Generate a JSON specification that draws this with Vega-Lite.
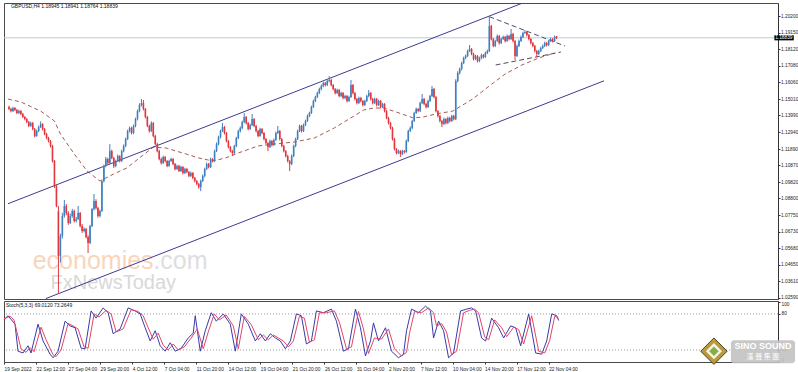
{
"$schema":"https://vega.github.io/schema/vega-lite/v6.json",
"background":"white",
"padding":{"left":1,"top":2,"right":0,"bottom":0},
"spacing":2,
"bounds":"flush",
"config":{"view":{"stroke":"#4a4a4a","strokeWidth":1},"axis":{"labelFont":"Liberation Sans","labelFontSize":4.8,"labelColor":"#222","tickColor":"#333","tickSize":2,"domainColor":"#333","grid":false,"labelOverlap":false,"labelBound":false},"text":{"font":"Liberation Sans"}},
"datasets":{
"candles":[
{"i":0,"o":1.1451,"h":1.146,"l":1.1432,"c":1.1439},{"i":1,"o":1.1439,"h":1.1447,"l":1.1418,"c":1.1426},{"i":2,"o":1.1426,"h":1.1453,"l":1.142,"c":1.1445},{"i":3,"o":1.1445,"h":1.1451,"l":1.1426,"c":1.1433},{"i":4,"o":1.1433,"h":1.144,"l":1.1407,"c":1.1414},{"i":5,"o":1.1414,"h":1.1435,"l":1.1408,"c":1.1426},{"i":6,"o":1.1426,"h":1.1432,"l":1.14,"c":1.1408},{"i":7,"o":1.1408,"h":1.1415,"l":1.1382,"c":1.1389},{"i":8,"o":1.1389,"h":1.1396,"l":1.1368,"c":1.1376},{"i":9,"o":1.1376,"h":1.1383,"l":1.135,"c":1.1358},
{"i":10,"o":1.1358,"h":1.1365,"l":1.1325,"c":1.1333},{"i":11,"o":1.1333,"h":1.136,"l":1.1327,"c":1.1351},{"i":12,"o":1.1351,"h":1.1358,"l":1.1306,"c":1.1314},{"i":13,"o":1.1314,"h":1.132,"l":1.1262,"c":1.127},{"i":14,"o":1.127,"h":1.131,"l":1.1265,"c":1.1301},{"i":15,"o":1.1301,"h":1.1335,"l":1.1295,"c":1.1326},{"i":16,"o":1.1326,"h":1.1362,"l":1.132,"c":1.1345},{"i":17,"o":1.1345,"h":1.135,"l":1.1305,"c":1.1314},{"i":18,"o":1.1314,"h":1.132,"l":1.1275,"c":1.1283},{"i":19,"o":1.1283,"h":1.129,"l":1.125,"c":1.1258},
{"i":20,"o":1.1258,"h":1.1265,"l":1.123,"c":1.1239},{"i":21,"o":1.1239,"h":1.1245,"l":1.1198,"c":1.1208},{"i":22,"o":1.1208,"h":1.1215,"l":1.1105,"c":1.1114},{"i":23,"o":1.1114,"h":1.112,"l":1.0945,"c":1.0958},{"i":24,"o":1.0958,"h":1.0965,"l":1.0825,"c":1.0833},{"i":25,"o":1.08,"h":1.0833,"l":1.0283,"c":1.052},{"i":26,"o":1.052,"h":1.066,"l":1.048,"c":1.0645},{"i":27,"o":1.0645,"h":1.079,"l":1.063,"c":1.077},{"i":28,"o":1.077,"h":1.087,"l":1.076,"c":1.0833},{"i":29,"o":1.0833,"h":1.0845,"l":1.0775,"c":1.0789},
{"i":30,"o":1.0789,"h":1.08,"l":1.0715,"c":1.0726},{"i":31,"o":1.0726,"h":1.0785,"l":1.072,"c":1.077},{"i":32,"o":1.077,"h":1.0815,"l":1.076,"c":1.0801},{"i":33,"o":1.0801,"h":1.081,"l":1.073,"c":1.0739},{"i":34,"o":1.0739,"h":1.0765,"l":1.073,"c":1.0751},{"i":35,"o":1.0751,"h":1.0833,"l":1.0745,"c":1.0789},{"i":36,"o":1.0789,"h":1.0795,"l":1.07,"c":1.0708},{"i":37,"o":1.0708,"h":1.072,"l":1.0665,"c":1.0676},{"i":38,"o":1.0676,"h":1.07,"l":1.0668,"c":1.0689},{"i":39,"o":1.0689,"h":1.0695,"l":1.063,"c":1.0639},
{"i":40,"o":1.0639,"h":1.065,"l":1.0539,"c":1.0601},{"i":41,"o":1.0601,"h":1.0715,"l":1.0595,"c":1.0708},{"i":42,"o":1.0708,"h":1.082,"l":1.07,"c":1.0814},{"i":43,"o":1.0814,"h":1.0908,"l":1.0805,"c":1.0864},{"i":44,"o":1.0864,"h":1.0875,"l":1.081,"c":1.082},{"i":45,"o":1.082,"h":1.0828,"l":1.076,"c":1.077},{"i":46,"o":1.077,"h":1.081,"l":1.0762,"c":1.0801},{"i":47,"o":1.0801,"h":1.0998,"l":1.0795,"c":1.0989},{"i":48,"o":1.0989,"h":1.1092,"l":1.098,"c":1.1083},{"i":49,"o":1.1083,"h":1.114,"l":1.1075,"c":1.1126},
{"i":50,"o":1.1126,"h":1.1135,"l":1.109,"c":1.1101},{"i":51,"o":1.1101,"h":1.122,"l":1.1095,"c":1.1176},{"i":52,"o":1.1176,"h":1.1185,"l":1.1125,"c":1.1133},{"i":53,"o":1.1133,"h":1.114,"l":1.107,"c":1.1083},{"i":54,"o":1.1083,"h":1.1122,"l":1.1075,"c":1.1114},{"i":55,"o":1.1114,"h":1.1155,"l":1.1108,"c":1.1145},{"i":56,"o":1.1145,"h":1.115,"l":1.1105,"c":1.1114},{"i":57,"o":1.1114,"h":1.1185,"l":1.1108,"c":1.1176},{"i":58,"o":1.1176,"h":1.1218,"l":1.1168,"c":1.1208},{"i":59,"o":1.1208,"h":1.126,"l":1.12,"c":1.1251},
{"i":60,"o":1.1251,"h":1.131,"l":1.1245,"c":1.1301},{"i":61,"o":1.1301,"h":1.133,"l":1.1292,"c":1.132},{"i":62,"o":1.132,"h":1.1328,"l":1.128,"c":1.1289},{"i":63,"o":1.1289,"h":1.1342,"l":1.1282,"c":1.1333},{"i":64,"o":1.1333,"h":1.1385,"l":1.1325,"c":1.1376},{"i":65,"o":1.1376,"h":1.1435,"l":1.1368,"c":1.1426},{"i":66,"o":1.1426,"h":1.1475,"l":1.1418,"c":1.1464},{"i":67,"o":1.1464,"h":1.1501,"l":1.1455,"c":1.1476},{"i":68,"o":1.1476,"h":1.1495,"l":1.143,"c":1.1439},{"i":69,"o":1.1439,"h":1.1445,"l":1.138,"c":1.1389},
{"i":70,"o":1.1389,"h":1.1395,"l":1.1325,"c":1.1333},{"i":71,"o":1.1333,"h":1.134,"l":1.1292,"c":1.1301},{"i":72,"o":1.1301,"h":1.1362,"l":1.1295,"c":1.1351},{"i":73,"o":1.1351,"h":1.1358,"l":1.1262,"c":1.127},{"i":74,"o":1.127,"h":1.1278,"l":1.1212,"c":1.122},{"i":75,"o":1.122,"h":1.1228,"l":1.1168,"c":1.1176},{"i":76,"o":1.1176,"h":1.1185,"l":1.1118,"c":1.1126},{"i":77,"o":1.1126,"h":1.1135,"l":1.1092,"c":1.1101},{"i":78,"o":1.1101,"h":1.1148,"l":1.1095,"c":1.1139},{"i":79,"o":1.1139,"h":1.1145,"l":1.1105,"c":1.1114},
{"i":80,"o":1.1114,"h":1.112,"l":1.1075,"c":1.1083},{"i":81,"o":1.1083,"h":1.1122,"l":1.1078,"c":1.1114},{"i":82,"o":1.1114,"h":1.1135,"l":1.1108,"c":1.1126},{"i":83,"o":1.1126,"h":1.1132,"l":1.1088,"c":1.1095},{"i":84,"o":1.1095,"h":1.1102,"l":1.1055,"c":1.1064},{"i":85,"o":1.1064,"h":1.1092,"l":1.1058,"c":1.1083},{"i":86,"o":1.1083,"h":1.109,"l":1.1045,"c":1.1051},{"i":87,"o":1.1051,"h":1.1085,"l":1.1045,"c":1.1076},{"i":88,"o":1.1076,"h":1.1082,"l":1.103,"c":1.1039},{"i":89,"o":1.1039,"h":1.1072,"l":1.1032,"c":1.1064},
{"i":90,"o":1.1064,"h":1.107,"l":1.1038,"c":1.1045},{"i":91,"o":1.1045,"h":1.1052,"l":1.1012,"c":1.102},{"i":92,"o":1.102,"h":1.1048,"l":1.1014,"c":1.1039},{"i":93,"o":1.1039,"h":1.1045,"l":1.1,"c":1.1008},{"i":94,"o":1.1008,"h":1.1015,"l":1.098,"c":1.0989},{"i":95,"o":1.0989,"h":1.0995,"l":1.0962,"c":1.097},{"i":96,"o":1.097,"h":1.0978,"l":1.094,"c":1.0951},{"i":97,"o":1.0951,"h":1.0998,"l":1.0926,"c":1.0989},{"i":98,"o":1.0989,"h":1.103,"l":1.0982,"c":1.102},{"i":99,"o":1.102,"h":1.1072,"l":1.1012,"c":1.1064},
{"i":100,"o":1.1064,"h":1.1105,"l":1.1058,"c":1.1095},{"i":101,"o":1.1095,"h":1.1102,"l":1.1068,"c":1.1076},{"i":102,"o":1.1076,"h":1.1135,"l":1.107,"c":1.1126},{"i":103,"o":1.1126,"h":1.1132,"l":1.1105,"c":1.1114},{"i":104,"o":1.1114,"h":1.1185,"l":1.1108,"c":1.1176},{"i":105,"o":1.1176,"h":1.123,"l":1.117,"c":1.122},{"i":106,"o":1.122,"h":1.1272,"l":1.1212,"c":1.1264},{"i":107,"o":1.1264,"h":1.131,"l":1.1255,"c":1.1301},{"i":108,"o":1.1301,"h":1.1351,"l":1.1295,"c":1.1326},{"i":109,"o":1.1326,"h":1.1333,"l":1.128,"c":1.1289},
{"i":110,"o":1.1289,"h":1.1295,"l":1.123,"c":1.1239},{"i":111,"o":1.1239,"h":1.1245,"l":1.1192,"c":1.1201},{"i":112,"o":1.1201,"h":1.1208,"l":1.1168,"c":1.1176},{"i":113,"o":1.1176,"h":1.1183,"l":1.1145,"c":1.1164},{"i":114,"o":1.1164,"h":1.1215,"l":1.1158,"c":1.1208},{"i":115,"o":1.1208,"h":1.1265,"l":1.12,"c":1.1258},{"i":116,"o":1.1258,"h":1.131,"l":1.125,"c":1.1301},{"i":117,"o":1.1301,"h":1.133,"l":1.1292,"c":1.132},{"i":118,"o":1.132,"h":1.1366,"l":1.1312,"c":1.1358},{"i":119,"o":1.1358,"h":1.1414,"l":1.135,"c":1.1389},
{"i":120,"o":1.1389,"h":1.1395,"l":1.1342,"c":1.1351},{"i":121,"o":1.1351,"h":1.1358,"l":1.1305,"c":1.1314},{"i":122,"o":1.1314,"h":1.1348,"l":1.1308,"c":1.1339},{"i":123,"o":1.1339,"h":1.1408,"l":1.1332,"c":1.1376},{"i":124,"o":1.1376,"h":1.1382,"l":1.1325,"c":1.1333},{"i":125,"o":1.1333,"h":1.134,"l":1.1292,"c":1.1301},{"i":126,"o":1.1301,"h":1.1308,"l":1.1262,"c":1.127},{"i":127,"o":1.127,"h":1.1322,"l":1.1265,"c":1.1314},{"i":128,"o":1.1314,"h":1.132,"l":1.128,"c":1.1289},{"i":129,"o":1.1289,"h":1.1295,"l":1.1242,"c":1.1251},
{"i":130,"o":1.1251,"h":1.1258,"l":1.1218,"c":1.1226},{"i":131,"o":1.1226,"h":1.1232,"l":1.1176,"c":1.1201},{"i":132,"o":1.1201,"h":1.1248,"l":1.1195,"c":1.1239},{"i":133,"o":1.1239,"h":1.1245,"l":1.1205,"c":1.1214},{"i":134,"o":1.1214,"h":1.1255,"l":1.1208,"c":1.1245},{"i":135,"o":1.1245,"h":1.1298,"l":1.124,"c":1.1289},{"i":136,"o":1.1289,"h":1.1333,"l":1.1282,"c":1.1301},{"i":137,"o":1.1301,"h":1.1308,"l":1.1242,"c":1.1251},{"i":138,"o":1.1251,"h":1.1258,"l":1.12,"c":1.1208},{"i":139,"o":1.1208,"h":1.1215,"l":1.1168,"c":1.1176},
{"i":140,"o":1.1176,"h":1.1182,"l":1.1136,"c":1.1145},{"i":141,"o":1.1145,"h":1.1152,"l":1.1105,"c":1.1114},{"i":142,"o":1.1114,"h":1.112,"l":1.1051,"c":1.1095},{"i":143,"o":1.1095,"h":1.1155,"l":1.1088,"c":1.1145},{"i":144,"o":1.1145,"h":1.1215,"l":1.1138,"c":1.1208},{"i":145,"o":1.1208,"h":1.126,"l":1.12,"c":1.1251},{"i":146,"o":1.1251,"h":1.131,"l":1.1245,"c":1.1301},{"i":147,"o":1.1301,"h":1.1342,"l":1.1295,"c":1.1333},{"i":148,"o":1.1333,"h":1.134,"l":1.1292,"c":1.1301},{"i":149,"o":1.1301,"h":1.1348,"l":1.1295,"c":1.1339},
{"i":150,"o":1.1339,"h":1.1372,"l":1.1332,"c":1.1364},{"i":151,"o":1.1364,"h":1.1405,"l":1.1358,"c":1.1395},{"i":152,"o":1.1395,"h":1.1422,"l":1.1388,"c":1.1414},{"i":153,"o":1.1414,"h":1.146,"l":1.1408,"c":1.1451},{"i":154,"o":1.1451,"h":1.1498,"l":1.1445,"c":1.1489},{"i":155,"o":1.1489,"h":1.1522,"l":1.1482,"c":1.1514},{"i":156,"o":1.1514,"h":1.1548,"l":1.1508,"c":1.1539},{"i":157,"o":1.1539,"h":1.1572,"l":1.1532,"c":1.1564},{"i":158,"o":1.1564,"h":1.1592,"l":1.1556,"c":1.1583},{"i":159,"o":1.1583,"h":1.161,"l":1.1575,"c":1.1601},
{"i":160,"o":1.1601,"h":1.1608,"l":1.158,"c":1.1589},{"i":161,"o":1.1589,"h":1.1622,"l":1.1582,"c":1.1614},{"i":162,"o":1.1614,"h":1.1645,"l":1.1605,"c":1.162},{"i":163,"o":1.162,"h":1.1628,"l":1.158,"c":1.1589},{"i":164,"o":1.1589,"h":1.1595,"l":1.1555,"c":1.1564},{"i":165,"o":1.1564,"h":1.157,"l":1.153,"c":1.1539},{"i":166,"o":1.1539,"h":1.1566,"l":1.1532,"c":1.1558},{"i":167,"o":1.1558,"h":1.1565,"l":1.1512,"c":1.152},{"i":168,"o":1.152,"h":1.1548,"l":1.1514,"c":1.1539},{"i":169,"o":1.1539,"h":1.1545,"l":1.15,"c":1.1508},
{"i":170,"o":1.1508,"h":1.1528,"l":1.15,"c":1.152},{"i":171,"o":1.152,"h":1.1526,"l":1.148,"c":1.1489},{"i":172,"o":1.1489,"h":1.1522,"l":1.1482,"c":1.1514},{"i":173,"o":1.1514,"h":1.162,"l":1.1508,"c":1.1589},{"i":174,"o":1.1589,"h":1.1595,"l":1.153,"c":1.1539},{"i":175,"o":1.1539,"h":1.1545,"l":1.1492,"c":1.1501},{"i":176,"o":1.1501,"h":1.1508,"l":1.1468,"c":1.1476},{"i":177,"o":1.1476,"h":1.1516,"l":1.147,"c":1.1508},{"i":178,"o":1.1508,"h":1.1515,"l":1.148,"c":1.1489},{"i":179,"o":1.1489,"h":1.1495,"l":1.1455,"c":1.1464},
{"i":180,"o":1.1464,"h":1.1498,"l":1.1458,"c":1.1489},{"i":181,"o":1.1489,"h":1.1528,"l":1.1482,"c":1.152},{"i":182,"o":1.152,"h":1.1558,"l":1.1512,"c":1.1539},{"i":183,"o":1.1539,"h":1.1545,"l":1.1492,"c":1.1501},{"i":184,"o":1.1501,"h":1.1508,"l":1.1468,"c":1.1476},{"i":185,"o":1.1476,"h":1.151,"l":1.147,"c":1.1501},{"i":186,"o":1.1501,"h":1.1508,"l":1.1455,"c":1.1464},{"i":187,"o":1.1464,"h":1.1498,"l":1.1458,"c":1.1489},{"i":188,"o":1.1489,"h":1.1495,"l":1.1442,"c":1.1451},{"i":189,"o":1.1451,"h":1.1478,"l":1.1445,"c":1.147},
{"i":190,"o":1.147,"h":1.1476,"l":1.1418,"c":1.1426},{"i":191,"o":1.1426,"h":1.1432,"l":1.1375,"c":1.1383},{"i":192,"o":1.1383,"h":1.139,"l":1.1342,"c":1.1351},{"i":193,"o":1.1351,"h":1.1358,"l":1.1312,"c":1.132},{"i":194,"o":1.132,"h":1.1328,"l":1.1242,"c":1.1251},{"i":195,"o":1.1251,"h":1.1258,"l":1.118,"c":1.1189},{"i":196,"o":1.1189,"h":1.1195,"l":1.1155,"c":1.1164},{"i":197,"o":1.1164,"h":1.1185,"l":1.1158,"c":1.1176},{"i":198,"o":1.1176,"h":1.1182,"l":1.1139,"c":1.1158},{"i":199,"o":1.1158,"h":1.1185,"l":1.115,"c":1.1176},
{"i":200,"o":1.1176,"h":1.1182,"l":1.116,"c":1.117},{"i":201,"o":1.117,"h":1.1248,"l":1.1165,"c":1.1239},{"i":202,"o":1.1239,"h":1.131,"l":1.1232,"c":1.1301},{"i":203,"o":1.1301,"h":1.133,"l":1.1295,"c":1.132},{"i":204,"o":1.132,"h":1.1372,"l":1.1312,"c":1.1364},{"i":205,"o":1.1364,"h":1.1422,"l":1.1358,"c":1.1414},{"i":206,"o":1.1414,"h":1.1448,"l":1.1408,"c":1.1439},{"i":207,"o":1.1439,"h":1.1445,"l":1.1418,"c":1.1426},{"i":208,"o":1.1426,"h":1.1485,"l":1.142,"c":1.1476},{"i":209,"o":1.1476,"h":1.1533,"l":1.147,"c":1.1501},
{"i":210,"o":1.1501,"h":1.1508,"l":1.1462,"c":1.147},{"i":211,"o":1.147,"h":1.1478,"l":1.1442,"c":1.1451},{"i":212,"o":1.1451,"h":1.1498,"l":1.1445,"c":1.1489},{"i":213,"o":1.1489,"h":1.1528,"l":1.1482,"c":1.152},{"i":214,"o":1.152,"h":1.1583,"l":1.1514,"c":1.1564},{"i":215,"o":1.1564,"h":1.157,"l":1.1505,"c":1.1514},{"i":216,"o":1.1514,"h":1.152,"l":1.1418,"c":1.1426},{"i":217,"o":1.1426,"h":1.1432,"l":1.1386,"c":1.1395},{"i":218,"o":1.1395,"h":1.1402,"l":1.1355,"c":1.1364},{"i":219,"o":1.1364,"h":1.137,"l":1.1326,"c":1.1345},
{"i":220,"o":1.1345,"h":1.1385,"l":1.1338,"c":1.1376},{"i":221,"o":1.1376,"h":1.1382,"l":1.1342,"c":1.1351},{"i":222,"o":1.1351,"h":1.1392,"l":1.1345,"c":1.1383},{"i":223,"o":1.1383,"h":1.139,"l":1.1355,"c":1.1364},{"i":224,"o":1.1364,"h":1.1402,"l":1.1358,"c":1.1395},{"i":225,"o":1.1395,"h":1.1402,"l":1.1368,"c":1.1376},{"i":226,"o":1.1376,"h":1.1625,"l":1.137,"c":1.1614},{"i":227,"o":1.1614,"h":1.1675,"l":1.1605,"c":1.1664},{"i":228,"o":1.1664,"h":1.1698,"l":1.1655,"c":1.1689},{"i":229,"o":1.1689,"h":1.1735,"l":1.168,"c":1.1726},
{"i":230,"o":1.1726,"h":1.1766,"l":1.172,"c":1.1758},{"i":231,"o":1.1758,"h":1.178,"l":1.175,"c":1.177},{"i":232,"o":1.177,"h":1.181,"l":1.1764,"c":1.1801},{"i":233,"o":1.1801,"h":1.1839,"l":1.1795,"c":1.1814},{"i":234,"o":1.1814,"h":1.182,"l":1.1775,"c":1.1783},{"i":235,"o":1.1783,"h":1.179,"l":1.1742,"c":1.1751},{"i":236,"o":1.1751,"h":1.1778,"l":1.1745,"c":1.177},{"i":237,"o":1.177,"h":1.1776,"l":1.173,"c":1.1739},{"i":238,"o":1.1739,"h":1.1766,"l":1.1732,"c":1.1758},{"i":239,"o":1.1758,"h":1.1785,"l":1.175,"c":1.1776},
{"i":240,"o":1.1776,"h":1.1782,"l":1.1755,"c":1.1764},{"i":241,"o":1.1764,"h":1.1798,"l":1.1758,"c":1.1789},{"i":242,"o":1.1789,"h":1.181,"l":1.1782,"c":1.1801},{"i":243,"o":1.1801,"h":1.2014,"l":1.1795,"c":1.1958},{"i":244,"o":1.1958,"h":1.1965,"l":1.1868,"c":1.1876},{"i":245,"o":1.1876,"h":1.1882,"l":1.1825,"c":1.1833},{"i":246,"o":1.1833,"h":1.1872,"l":1.1826,"c":1.1864},{"i":247,"o":1.1864,"h":1.1905,"l":1.1858,"c":1.1895},{"i":248,"o":1.1895,"h":1.1902,"l":1.1842,"c":1.1851},{"i":249,"o":1.1851,"h":1.1885,"l":1.1845,"c":1.1876},
{"i":250,"o":1.1876,"h":1.1898,"l":1.187,"c":1.1889},{"i":251,"o":1.1889,"h":1.1895,"l":1.1855,"c":1.1864},{"i":252,"o":1.1864,"h":1.1905,"l":1.1858,"c":1.1895},{"i":253,"o":1.1895,"h":1.1902,"l":1.1868,"c":1.1876},{"i":254,"o":1.1876,"h":1.1939,"l":1.187,"c":1.1908},{"i":255,"o":1.1908,"h":1.1915,"l":1.1855,"c":1.1864},{"i":256,"o":1.1864,"h":1.187,"l":1.1745,"c":1.177},{"i":257,"o":1.177,"h":1.1842,"l":1.1764,"c":1.1833},{"i":258,"o":1.1833,"h":1.1872,"l":1.1826,"c":1.1864},{"i":259,"o":1.1864,"h":1.1898,"l":1.1858,"c":1.1889},
{"i":260,"o":1.1889,"h":1.1922,"l":1.1882,"c":1.1914},{"i":261,"o":1.1914,"h":1.1933,"l":1.1908,"c":1.192},{"i":262,"o":1.192,"h":1.1926,"l":1.1892,"c":1.1901},{"i":263,"o":1.1901,"h":1.1908,"l":1.1868,"c":1.1876},{"i":264,"o":1.1876,"h":1.1882,"l":1.1842,"c":1.1851},{"i":265,"o":1.1851,"h":1.1858,"l":1.1825,"c":1.1833},{"i":266,"o":1.1833,"h":1.184,"l":1.1792,"c":1.1801},{"i":267,"o":1.1801,"h":1.1808,"l":1.1764,"c":1.1783},{"i":268,"o":1.1783,"h":1.181,"l":1.1776,"c":1.1801},{"i":269,"o":1.1801,"h":1.1828,"l":1.1795,"c":1.182},
{"i":270,"o":1.182,"h":1.1842,"l":1.1814,"c":1.1833},{"i":271,"o":1.1833,"h":1.186,"l":1.1826,"c":1.1851},{"i":272,"o":1.1851,"h":1.1858,"l":1.183,"c":1.1839},{"i":273,"o":1.1839,"h":1.1872,"l":1.1832,"c":1.1864},{"i":274,"o":1.1864,"h":1.1885,"l":1.1858,"c":1.1876},{"i":275,"o":1.1876,"h":1.1882,"l":1.1855,"c":1.1864},{"i":276,"o":1.1864,"h":1.1898,"l":1.1858,"c":1.1889},{"i":277,"o":1.1895,"h":1.1895,"l":1.1876,"c":1.1884}
],
"ma":[
{"i":-0.5,"p":1.1501},{"i":6,"p":1.1483},{"i":16,"p":1.1426},{"i":23,"p":1.1364},{"i":26,"p":1.1283},{"i":33,"p":1.1158},{"i":39.5,"p":1.1051},{"i":46,"p":1.0989},{"i":53,"p":1.1033},{"i":59.5,"p":1.107},{"i":66,"p":1.1133},{"i":73,"p":1.1201},{"i":79.5,"p":1.1195},{"i":89.5,"p":1.1158},{"i":96,"p":1.1133},{"i":103,"p":1.1114},{"i":109.5,"p":1.1133},{"i":116,"p":1.1164},{"i":126,"p":1.1208},{"i":134.5,"p":1.122},{"i":144.5,"p":1.1233},{"i":154.5,"p":1.1258},{"i":164.5,"p":1.132},{"i":174.5,"p":1.1395},{"i":179.5,"p":1.1433},{"i":184.5,"p":1.1445},{"i":189.5,"p":1.1445},{"i":194.5,"p":1.1426},{"i":204.5,"p":1.1383},{"i":209.5,"p":1.1389},{"i":216,"p":1.1408},{"i":224.5,"p":1.1426},{"i":229.5,"p":1.1464},{"i":234.5,"p":1.1501},{"i":243,"p":1.1583},{"i":251,"p":1.1658},{"i":259.5,"p":1.1714},{"i":268,"p":1.1758},{"i":276,"p":1.1789}
],
"chan":[
{"g":"up","i":-0.5,"p":1.0847},{"g":"up","i":260,"p":1.2102},{"g":"lo","i":18.6,"p":1.0254},{"g":"lo","i":301,"p":1.1615}
],
"tri":[
{"g":"t1","i":243,"p":1.2016},{"g":"t1","i":281.2,"p":1.1833},{"g":"t2","i":246.2,"p":1.1714},{"g":"t2","i":279.2,"p":1.1795}
],
"k":[
{"i":0,"v":70},{"i":2,"v":77},{"i":3,"v":73},{"i":5.5,"v":63},{"i":7,"v":18},{"i":9.5,"v":15},{"i":12,"v":27},{"i":13.5,"v":15},{"i":17,"v":63},{"i":19.5,"v":35},{"i":23,"v":13},{"i":24.5,"v":7},{"i":27,"v":18},{"i":30.5,"v":68},{"i":33,"v":60},{"i":35.5,"v":57},{"i":38.5,"v":23},{"i":40.5,"v":22},{"i":43.5,"v":85},{"i":46,"v":73},{"i":49.5,"v":90},{"i":52,"v":82},{"i":54.5,"v":47},{"i":58,"v":55},{"i":62,"v":90},{"i":65.5,"v":85},{"i":68,"v":80},{"i":70.5,"v":57},{"i":73,"v":35},{"i":75.5,"v":52},{"i":78,"v":27},{"i":80.5,"v":18},{"i":83,"v":32},{"i":85.5,"v":18},{"i":88.5,"v":23},{"i":92,"v":40},{"i":94.5,"v":48},{"i":95.5,"v":77},{"i":98,"v":18},{"i":100.5,"v":52},{"i":103.5,"v":82},{"i":106,"v":68},{"i":109.5,"v":80},{"i":113,"v":63},{"i":115.5,"v":18},{"i":118.5,"v":80},{"i":122,"v":63},{"i":125.5,"v":35},{"i":128,"v":47},{"i":130.5,"v":35},{"i":133,"v":47},{"i":135.5,"v":40},{"i":138,"v":35},{"i":140.5,"v":22},{"i":143,"v":35},{"i":146,"v":80},{"i":148.5,"v":77},{"i":151,"v":30},{"i":153.5,"v":35},{"i":156,"v":85},{"i":159.5,"v":82},{"i":163.5,"v":88},{"i":166,"v":68},{"i":169.5,"v":18},{"i":172,"v":22},{"i":175.5,"v":88},{"i":178,"v":57},{"i":180.5,"v":10},{"i":183,"v":35},{"i":184.5,"v":65},{"i":187,"v":35},{"i":190.5,"v":57},{"i":193.5,"v":18},{"i":197,"v":7},{"i":199.5,"v":13},{"i":201,"v":52},{"i":203.5,"v":88},{"i":207,"v":82},{"i":210.5,"v":93},{"i":213,"v":85},{"i":214.5,"v":40},{"i":217,"v":68},{"i":219.5,"v":52},{"i":222,"v":7},{"i":224.5,"v":15},{"i":228,"v":85},{"i":231,"v":88},{"i":233.5,"v":90},{"i":235.5,"v":85},{"i":238.5,"v":40},{"i":240.5,"v":35},{"i":243.5,"v":73},{"i":247,"v":57},{"i":249.5,"v":40},{"i":253,"v":60},{"i":255.5,"v":57},{"i":258,"v":27},{"i":262,"v":80},{"i":265.5,"v":15},{"i":268.5,"v":13},{"i":271,"v":35},{"i":273.5,"v":80},{"i":276,"v":77},{"i":277,"v":69}
],
"d":[
{"i":0,"v":72},{"i":3,"v":76},{"i":5,"v":70},{"i":8.5,"v":22},{"i":11,"v":16},{"i":13,"v":24},{"i":15,"v":17},{"i":18.5,"v":58},{"i":21,"v":37},{"i":24.5,"v":12},{"i":26,"v":9},{"i":28.5,"v":20},{"i":32,"v":64},{"i":34.5,"v":60},{"i":37,"v":55},{"i":40,"v":25},{"i":42,"v":23},{"i":45,"v":80},{"i":47.5,"v":75},{"i":51,"v":86},{"i":53.5,"v":80},{"i":56,"v":50},{"i":59.5,"v":55},{"i":63.5,"v":87},{"i":67,"v":84},{"i":69.5,"v":77},{"i":72,"v":57},{"i":74.5,"v":38},{"i":77,"v":48},{"i":79.5,"v":28},{"i":82,"v":20},{"i":84.5,"v":30},{"i":87,"v":20},{"i":90,"v":25},{"i":93.5,"v":40},{"i":96.5,"v":55},{"i":99.5,"v":22},{"i":102,"v":50},{"i":105,"v":80},{"i":107.5,"v":70},{"i":111,"v":78},{"i":114.5,"v":60},{"i":117,"v":22},{"i":120,"v":76},{"i":123.5,"v":62},{"i":127,"v":37},{"i":129.5,"v":45},{"i":132,"v":37},{"i":134.5,"v":45},{"i":137,"v":40},{"i":139.5,"v":35},{"i":142,"v":25},{"i":144.5,"v":35},{"i":147.5,"v":76},{"i":150,"v":73},{"i":152.5,"v":33},{"i":155,"v":37},{"i":157.5,"v":82},{"i":161,"v":82},{"i":165,"v":85},{"i":167.5,"v":66},{"i":171,"v":22},{"i":173.5,"v":25},{"i":177,"v":84},{"i":179.5,"v":55},{"i":182,"v":14},{"i":185,"v":40},{"i":188.5,"v":38},{"i":192,"v":55},{"i":195,"v":22},{"i":198.5,"v":10},{"i":201,"v":16},{"i":202.5,"v":48},{"i":205,"v":84},{"i":208.5,"v":82},{"i":212,"v":90},{"i":214.5,"v":82},{"i":216,"v":60},{"i":218.5,"v":64},{"i":221,"v":50},{"i":223.5,"v":12},{"i":226,"v":18},{"i":229.5,"v":82},{"i":232.5,"v":86},{"i":235,"v":88},{"i":237,"v":82},{"i":240,"v":42},{"i":242,"v":37},{"i":245,"v":70},{"i":248.5,"v":57},{"i":251,"v":42},{"i":254.5,"v":58},{"i":257,"v":54},{"i":259.5,"v":30},{"i":263.5,"v":77},{"i":267,"v":18},{"i":270,"v":15},{"i":272.5,"v":36},{"i":275,"v":76},{"i":277,"v":73}
]
},
"vconcat":[
{"width":774,"height":296,
"resolve":{"axis":{"y":"independent","x":"independent"}},
"layer":[
{"data":{"values":[{"p":1.18839}]},"mark":{"type":"rule","color":"#b9cdd6","strokeWidth":1},
 "encoding":{"y":{"field":"p","type":"quantitative","title":null,"scale":{"domain":[1.02515,1.21015],"nice":false,"zero":false},
 "axis":{"orient":"right","values":[1.202,1.1915,1.1812,1.1708,1.1606,1.1501,1.1399,1.1294,1.1189,1.1087,1.0982,1.088,1.0775,1.0673,1.0568,1.0465,1.0361,1.0259],"format":".5f","labelPadding":0.5,"labelOverlap":false,"labelBound":false}}}},
{"data":{"values":[{"i":12,"p":1.0436,"t":"economies"}]},"mark":{"type":"text","align":"left","baseline":"alphabetic","fontSize":25,"color":"#f8d5bc","font":"Liberation Sans"},
 "encoding":{"x":{"field":"i","type":"quantitative","title":null,"scale":{"domain":[0,386.5],"nice":false,"zero":false},"axis":null},"y":{"field":"p","type":"quantitative","title":null,"scale":{"domain":[1.02515,1.21015],"nice":false,"zero":false},"axis":null},"text":{"field":"t"}}},
{"data":{"values":[{"i":73,"p":1.0436,"t":".com"}]},"mark":{"type":"text","align":"left","baseline":"alphabetic","fontSize":25,"color":"#dedede","font":"Liberation Sans"},
 "encoding":{"x":{"field":"i","type":"quantitative","title":null,"scale":{"domain":[0,386.5],"nice":false,"zero":false},"axis":null},"y":{"field":"p","type":"quantitative","title":null,"scale":{"domain":[1.02515,1.21015],"nice":false,"zero":false},"axis":null},"text":{"field":"t"}}},
{"data":{"values":[{"i":21,"p":1.0312,"t":"FxNewsToday"}]},"mark":{"type":"text","align":"left","baseline":"alphabetic","fontSize":20,"color":"#d8d8d8","font":"Liberation Sans"},
 "encoding":{"x":{"field":"i","type":"quantitative","title":null,"scale":{"domain":[0,386.5],"nice":false,"zero":false},"axis":null},"y":{"field":"p","type":"quantitative","title":null,"scale":{"domain":[1.02515,1.21015],"nice":false,"zero":false},"axis":null},"text":{"field":"t"}}},
{"data":{"name":"ma"},"mark":{"type":"line","color":"#a65a55","strokeWidth":1,"strokeDash":[4,3],"clip":true},
 "encoding":{"x":{"field":"i","type":"quantitative","title":null,"scale":{"domain":[0,386.5],"nice":false,"zero":false},"axis":null},"y":{"field":"p","type":"quantitative","title":null,"scale":{"domain":[1.02515,1.21015],"nice":false,"zero":false},"axis":null}}},
{"data":{"name":"chan"},"mark":{"type":"line","color":"#3c3c90","strokeWidth":1,"clip":true},
 "encoding":{"x":{"field":"i","type":"quantitative","title":null,"scale":{"domain":[0,386.5],"nice":false,"zero":false},"axis":null},"y":{"field":"p","type":"quantitative","title":null,"scale":{"domain":[1.02515,1.21015],"nice":false,"zero":false},"axis":null},"detail":{"field":"g"}}},
{"data":{"name":"tri"},"mark":{"type":"line","color":"#4d4d66","strokeWidth":1,"strokeDash":[5,3],"clip":true},
 "encoding":{"x":{"field":"i","type":"quantitative","title":null,"scale":{"domain":[0,386.5],"nice":false,"zero":false},"axis":null},"y":{"field":"p","type":"quantitative","title":null,"scale":{"domain":[1.02515,1.21015],"nice":false,"zero":false},"axis":null},"detail":{"field":"g"}}},
{"data":{"name":"candles"},"mark":{"type":"rule","strokeWidth":1},
 "encoding":{"x":{"field":"i","type":"quantitative","title":null,"scale":{"domain":[0,386.5],"nice":false,"zero":false},"axis":null},"y":{"field":"l","type":"quantitative","title":null,"scale":{"domain":[1.02515,1.21015],"nice":false,"zero":false},"axis":null},"y2":{"field":"h"},
 "color":{"condition":{"test":"datum.c >= datum.o","value":"#3f7fbf"},"value":"#e0363e"}}},
{"data":{"name":"candles"},"mark":{"type":"bar","width":1.6},
 "encoding":{"x":{"field":"i","type":"quantitative","title":null,"scale":{"domain":[0,386.5],"nice":false,"zero":false},"axis":null},"y":{"field":"o","type":"quantitative","title":null,"scale":{"domain":[1.02515,1.21015],"nice":false,"zero":false},"axis":null},"y2":{"field":"c"},
 "color":{"condition":{"test":"datum.c >= datum.o","value":"#3f7fbf"},"value":"#e0363e"}}},
{"data":{"values":[{"i":1,"p":1.2083,"t":"GBPUSD,H4  1.18945 1.18941 1.18764 1.18839"}]},"mark":{"type":"text","align":"left","baseline":"middle","fontSize":5,"color":"#111"},
 "encoding":{"x":{"field":"i","type":"quantitative","title":null,"scale":{"domain":[0,386.5],"nice":false,"zero":false},"axis":null},"y":{"field":"p","type":"quantitative","title":null,"scale":{"domain":[1.02515,1.21015],"nice":false,"zero":false},"axis":null},"text":{"field":"t"}}},
{"data":{"values":[{"i":387.2,"i2":397,"p":1.19,"p2":1.1868}]},"mark":{"type":"rect","color":"#000"},
 "encoding":{"x":{"field":"i","type":"quantitative","title":null,"scale":{"domain":[0,386.5],"nice":false,"zero":false},"axis":null},"x2":{"field":"i2"},"y":{"field":"p","type":"quantitative","title":null,"scale":{"domain":[1.02515,1.21015],"nice":false,"zero":false},"axis":null},"y2":{"field":"p2"}}},
{"data":{"values":[{"i":387.6,"p":1.18839,"t":"1.18839"}]},"mark":{"type":"text","align":"left","baseline":"middle","fontSize":4.8,"color":"#fff"},
 "encoding":{"x":{"field":"i","type":"quantitative","title":null,"scale":{"domain":[0,386.5],"nice":false,"zero":false},"axis":null},"y":{"field":"p","type":"quantitative","title":null,"scale":{"domain":[1.02515,1.21015],"nice":false,"zero":false},"axis":null},"text":{"field":"t"}}}
]},
{"width":774,"height":61,
"resolve":{"axis":{"y":"independent","x":"independent"}},
"layer":[
{"data":{"values":[{"v":80},{"v":20}]},"mark":{"type":"rule","color":"#9a9a9a","strokeWidth":1,"strokeDash":[1,2]},
 "encoding":{"y":{"field":"v","type":"quantitative","title":null,"scale":{"domain":[0,101.5],"nice":false,"zero":false},"axis":{"orient":"right","values":[100,80,20,0],"labelPadding":1,"labelOverlap":false,"labelFlush":true}}}},
{"data":{"name":"k"},"mark":{"type":"line","color":"#3a3aa8","strokeWidth":1},
 "encoding":{"x":{"field":"i","type":"quantitative","title":null,"scale":{"domain":[0,386.5],"nice":false,"zero":false},
 "axis":{"values":[0,16,32,48,64,80,96,112,128,144,160,176,192,208,224,240,256,272],"labelExpr":"['19 Sep 2022','22 Sep 12:00','27 Sep 04:00','29 Sep 20:00','4 Oct 12:00','7 Oct 04:00','11 Oct 20:00','14 Oct 12:00','19 Oct 04:00','21 Oct 20:00','26 Oct 12:00','31 Oct 04:00','2 Nov 20:00','7 Nov 12:00','10 Nov 04:00','14 Nov 20:00','17 Nov 12:00','22 Nov 04:00'][round(datum.value/16)]","labelAlign":"left","labelBaseline":"top","labelPadding":2,"domain":false,"labelOverlap":false,"labelFlush":false}},
 "y":{"field":"v","type":"quantitative","title":null,"scale":{"domain":[0,101.5],"nice":false,"zero":false},"axis":null}}},
{"data":{"name":"d"},"mark":{"type":"line","color":"#e2456a","strokeWidth":1},
 "encoding":{"x":{"field":"i","type":"quantitative","title":null,"scale":{"domain":[0,386.5],"nice":false,"zero":false},"axis":null},"y":{"field":"v","type":"quantitative","title":null,"scale":{"domain":[0,101.5],"nice":false,"zero":false},"axis":null}}},
{"data":{"values":[{"i":1,"v":95,"t":"Stoch(5,3,3) 69.0120 73.2649"}]},"mark":{"type":"text","align":"left","baseline":"middle","fontSize":5,"color":"#111"},
 "encoding":{"x":{"field":"i","type":"quantitative","title":null,"scale":{"domain":[0,386.5],"nice":false,"zero":false},"axis":null},"y":{"field":"v","type":"quantitative","title":null,"scale":{"domain":[0,101.5],"nice":false,"zero":false},"axis":null},"text":{"field":"t"}}},
{"data":{"values":[{"i":363,"i2":395,"v":36,"v2":-2}]},"mark":{"type":"rect","color":"#c2c2c2","opacity":0.9,"cornerRadius":3},
 "encoding":{"x":{"field":"i","type":"quantitative","title":null,"scale":{"domain":[0,386.5],"nice":false,"zero":false},"axis":null},"x2":{"field":"i2"},"y":{"field":"v","type":"quantitative","title":null,"scale":{"domain":[0,101.5],"nice":false,"zero":false},"axis":null},"y2":{"field":"v2"}}},
{"data":{"values":[{"i":354.5,"v":18}]},"mark":{"type":"point","shape":"diamond","size":700,"filled":true,"color":"#b89b3c","stroke":"#4d4220","strokeWidth":1,"opacity":1},
 "encoding":{"x":{"field":"i","type":"quantitative","title":null,"scale":{"domain":[0,386.5],"nice":false,"zero":false},"axis":null},"y":{"field":"v","type":"quantitative","title":null,"scale":{"domain":[0,101.5],"nice":false,"zero":false},"axis":null}}},
{"data":{"values":[{"i":354.5,"v":18}]},"mark":{"type":"point","shape":"diamond","size":260,"filled":true,"color":"#f4f4e8","opacity":1},
 "encoding":{"x":{"field":"i","type":"quantitative","title":null,"scale":{"domain":[0,386.5],"nice":false,"zero":false},"axis":null},"y":{"field":"v","type":"quantitative","title":null,"scale":{"domain":[0,101.5],"nice":false,"zero":false},"axis":null}}},
{"data":{"values":[{"i":354.5,"v":18}]},"mark":{"type":"point","shape":"diamond","size":90,"filled":true,"color":"#86ad4c","opacity":1},
 "encoding":{"x":{"field":"i","type":"quantitative","title":null,"scale":{"domain":[0,386.5],"nice":false,"zero":false},"axis":null},"y":{"field":"v","type":"quantitative","title":null,"scale":{"domain":[0,101.5],"nice":false,"zero":false},"axis":null}}},
{"data":{"values":[{"i":379,"v":26,"t":"SINO SOUND"}]},"mark":{"type":"text","align":"center","baseline":"middle","fontSize":9,"fontWeight":"bold","color":"#ffffff","font":"Liberation Sans"},
 "encoding":{"x":{"field":"i","type":"quantitative","title":null,"scale":{"domain":[0,386.5],"nice":false,"zero":false},"axis":null},"y":{"field":"v","type":"quantitative","title":null,"scale":{"domain":[0,101.5],"nice":false,"zero":false},"axis":null},"text":{"field":"t"}}},
{"data":{"values":[{"i":379,"v":9,"t":"漢  聲  集  團"}]},"mark":{"type":"text","align":"center","baseline":"middle","fontSize":7,"color":"#ffffff","font":"Noto Sans CJK TC"},
 "encoding":{"x":{"field":"i","type":"quantitative","title":null,"scale":{"domain":[0,386.5],"nice":false,"zero":false},"axis":null},"y":{"field":"v","type":"quantitative","title":null,"scale":{"domain":[0,101.5],"nice":false,"zero":false},"axis":null},"text":{"field":"t"}}}
]}
]
}
